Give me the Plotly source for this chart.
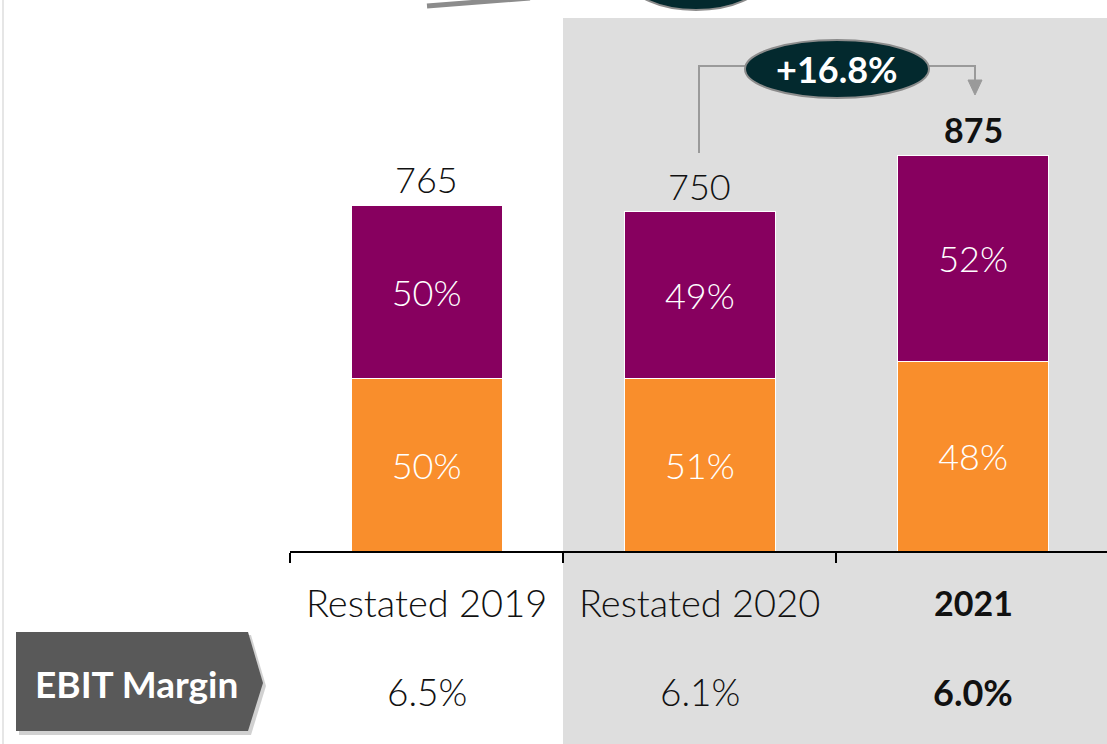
import plotly.graph_objects as go

# ---- data ----
categories = ["Restated 2019", "Restated 2020", "2021"]
totals = [765, 750, 875]
orange_share = [50, 51, 48]
purple_share = [50, 49, 52]
ebit_margin = ["6.5%", "6.1%", "6.0%"]
growth_label = "+16.8%"
bold_flags = [False, False, True]

ORANGE = "#f98e2c"
PURPLE = "#87005f"
GREY_BG = "#dedede"
DARK = "#03292e"

orange_vals = [t * s / 100 for t, s in zip(totals, orange_share)]
purple_vals = [t - o for t, o in zip(totals, orange_vals)]
xpos = list(range(len(categories)))

W, H = 1107, 744
L, R, T, B = 290, 0, 0, 193
PW = W - L - R
PH = H - T - B


def px(xp):
    return (xp - L) / PW


def py(yp):
    return (H - B - yp) / PH


LIGHT = dict(family="Lato", size=36, color="#111111", weight=300)
BOLD = dict(family="Lato", size=34, color="#111111", weight="bold")

fig = go.Figure()
fig.add_trace(go.Bar(
    x=xpos, y=orange_vals, marker=dict(color=ORANGE, line=dict(color="white", width=1)),
    text=[f"{s}%" for s in orange_share], textposition="inside", insidetextanchor="middle",
    textfont=dict(family="Lato", size=36, color="white", weight=300), width=0.553,
    hoverinfo="skip"))
fig.add_trace(go.Bar(
    x=xpos, y=purple_vals, marker=dict(color=PURPLE, line=dict(color="white", width=1)),
    text=[f"{s}%" for s in purple_share], textposition="inside", insidetextanchor="middle",
    textfont=dict(family="Lato", size=36, color="white", weight=300), width=0.553,
    hoverinfo="skip"))

annotations = []
for i, (c, t, m, b) in enumerate(zip(categories, totals, ebit_margin, bold_flags)):
    f = BOLD if b else LIGHT
    annotations.append(dict(x=i, y=t, xref="x", yref="y", text=str(t), showarrow=False,
                            xanchor="center", yshift=26, yanchor="middle", font=f))
    annotations.append(dict(x=i, y=py(602), xref="x", yref="paper", text=c, showarrow=False,
                            xanchor="center", yanchor="middle",
                            font=f if b else dict(f, size=38)))
    annotations.append(dict(x=i, y=py(692), xref="x", yref="paper", text=m, showarrow=False,
                            xanchor="center", yanchor="middle",
                            font=dict(f, size=36) if b else dict(f, size=37)))

annotations.append(dict(x=px(837), y=py(69), xref="paper", yref="paper", text=growth_label,
                        showarrow=False, xanchor="center", yanchor="middle",
                        font=dict(family="Lato", size=36, color="white", weight="bold")))
annotations.append(dict(x=px(136), y=py(683), xref="paper", yref="paper", text="EBIT Margin",
                        showarrow=False, xanchor="center", yanchor="middle",
                        font=dict(family="Lato", size=37, color="white", weight="bold")))


def path(points, close=False):
    s = "M" + " L".join(f"{px(a)},{py(b)}" for a, b in points)
    return s + (" Z" if close else "")


shapes = [
    # grey highlight panel
    dict(type="rect", xref="paper", yref="paper", x0=px(563), x1=px(1110), y0=py(18), y1=py(760),
         fillcolor=GREY_BG, line=dict(width=0), layer="below"),
    # left thin border
    dict(type="line", xref="paper", yref="paper", x0=px(3), x1=px(3), y0=py(0), y1=py(744),
         line=dict(color="#e6e6e6", width=2)),
    # top fragment: grey line + dark ellipse
    dict(type="line", xref="paper", yref="paper", x0=px(427), y0=py(6), x1=px(530), y1=py(-2),
         line=dict(color="#8c8c8c", width=5)),
    dict(type="circle", xref="paper", yref="paper", x0=px(630), x1=px(762), y0=py(-50), y1=py(10),
         fillcolor=DARK, line=dict(color="#8c8c8c", width=2)),
    # connector lines
    dict(type="path", xref="paper", yref="paper",
         path=path([(699, 153), (699, 66), (748, 66)]), line=dict(color="#9a9a9a", width=2)),
    dict(type="path", xref="paper", yref="paper",
         path=path([(926, 66), (975, 66), (975, 82)]), line=dict(color="#9a9a9a", width=2)),
    dict(type="path", xref="paper", yref="paper",
         path=path([(968, 80), (982, 80), (975, 95)], close=True),
         fillcolor="#9a9a9a", line=dict(color="#9a9a9a", width=1)),
    # growth ellipse
    dict(type="circle", xref="paper", yref="paper", x0=px(745), x1=px(929), y0=py(40), y1=py(98),
         fillcolor=DARK, line=dict(color="#8c8c8c", width=2)),
    # EBIT margin label box (shadow + box)
    dict(type="path", xref="paper", yref="paper",
         path=path([(19, 635), (251, 635), (266, 686), (251, 735), (19, 735)], close=True),
         fillcolor="rgba(0,0,0,0.18)", line=dict(width=0)),
    dict(type="path", xref="paper", yref="paper",
         path=path([(16, 632), (248, 632), (263, 683), (248, 731), (16, 731)], close=True),
         fillcolor="#595959", line=dict(width=0)),
]

fig.update_layout(
    width=W, height=H, autosize=False,
    margin=dict(l=L, r=R, t=T, b=B, pad=0),
    barmode="stack", showlegend=False,
    paper_bgcolor="white", plot_bgcolor="rgba(0,0,0,0)",
    xaxis=dict(type="linear", range=[-0.5, 2.49], showline=True, linecolor="black", linewidth=1.5,
               ticks="outside", tickmode="array", tickvals=[-0.5, 0.5, 1.5], ticklen=10,
               tickcolor="black", tickwidth=1.5,
               showticklabels=False, showgrid=False, zeroline=False, fixedrange=True),
    yaxis=dict(range=[0, (H - B) / (346 / 765)], visible=False, fixedrange=True),
    annotations=annotations, shapes=shapes,
)

fig.write_html("out.html", config={"displayModeBar": False},
               post_script="document.body.style.margin='0';document.body.style.overflow='hidden';")
